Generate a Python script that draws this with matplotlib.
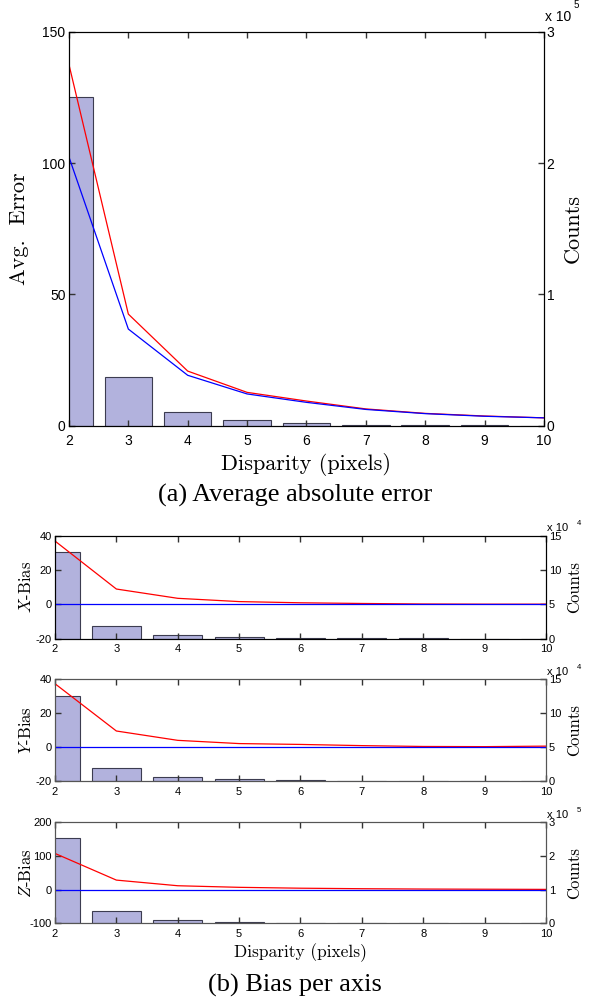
import matplotlib
matplotlib.use("Agg")
import matplotlib.pyplot as plt

plt.rcParams['mathtext.fontset'] = 'cm'
plt.rcParams['axes.unicode_minus'] = False
plt.rcParams['xtick.direction'] = 'in'
plt.rcParams['ytick.direction'] = 'in'
plt.rcParams['xtick.top'] = True
plt.rcParams['xtick.major.size'] = 4
plt.rcParams['ytick.major.size'] = 4
plt.rcParams['xtick.major.width'] = 1.0
plt.rcParams['ytick.major.width'] = 1.0
plt.rcParams['xtick.color'] = '#333333'
plt.rcParams['ytick.color'] = '#333333'
plt.rcParams['xtick.labelcolor'] = 'black'
plt.rcParams['ytick.labelcolor'] = 'black'

disparity = [2, 3, 4, 5, 6, 7, 8, 9, 10]

# (a) average absolute error
err_red = [137.5, 42.5, 20.8, 12.7, 9.4, 6.4, 4.7, 3.7, 3.0]
err_blue = [102.3, 36.8, 19.2, 12.1, 8.9, 6.2, 4.6, 3.6, 3.0]
counts_a = [250000, 37000, 10700, 4400, 2000, 700, 400, 250, 150]

# (b) bias per axis
x_red = [36.8, 8.9, 3.5, 1.6, 0.9, 0.5, 0.2, 0.1, 0.1]
x_blue = [0, 0, 0, 0, 0, 0, 0, 0, 0]
x_counts = [126000, 18500, 5800, 2500, 1200, 600, 350, 200, 120]

y_red = [37.2, 9.4, 3.9, 2.0, 1.5, 0.8, 0.3, 0.2, 0.5]
y_blue = [0, 0, 0, 0, 0, 0, 0, 0, 0]
y_counts = [125000, 18700, 5400, 2500, 1200, 600, 350, 200, 120]

z_red = [107, 28, 11.3, 6.6, 4.0, 2.5, 1.5, 1.0, 0.5]
z_blue = [0, 0, 0, 0, 0, 0, 0, 0, 0]
z_counts = [252000, 37300, 10700, 4700, 2200, 1000, 600, 300, 200]

BAR_FACE = "#b2b2dd"
BAR_EDGE = "#3c3c50"
AX_COL = "#555555"
TICK_FONT = "Liberation Sans"
LABEL_FONT = "cmr10"


def panel(fig, rect, red, blue, counts, ylim, yticks, clim, cticks, ctick_labels,
          exp, ylabel, tfs, lfs, lab_x, cnt_x, xpad, spine_mode, text_on_ax):
    ax = fig.add_axes(rect)
    ax2 = ax.twinx()
    ax2.bar(disparity, counts, width=0.8, color=BAR_FACE, edgecolor=BAR_EDGE, linewidth=0.8)
    ax.plot(disparity, red, color="red", lw=0.9)
    ax.plot(disparity, blue, color="blue", lw=0.9)
    ax.set_zorder(ax2.get_zorder() + 1)
    ax.patch.set_visible(False)

    ax.set_xlim(2, 10)
    ax.set_ylim(*ylim)
    ax2.set_ylim(*clim)
    ax.set_xticks(disparity)
    ax.set_xticklabels([str(d) for d in disparity], fontfamily=TICK_FONT, fontsize=tfs)
    ax.set_yticks(yticks)
    ax.set_yticklabels([str(t) for t in yticks], fontfamily=TICK_FONT, fontsize=tfs)
    ax2.set_yticks(cticks)
    ax2.set_yticklabels(ctick_labels, fontfamily=TICK_FONT, fontsize=tfs)

    ax.tick_params(axis="x", pad=xpad)
    ax.tick_params(axis="y", pad=2.5)
    ax2.tick_params(axis="y", pad=2)
    for a in (ax, ax2):
        for s in a.spines.values():
            if spine_mode in ("both", "color"):
                s.set_color(AX_COL)
            if spine_mode in ("both", "width"):
                s.set_linewidth(0.8)

    ax.set_ylabel(ylabel, fontfamily=LABEL_FONT, fontsize=lfs)
    ax.yaxis.set_label_coords(lab_x, 0.5)
    ax2.set_ylabel("Counts", fontfamily=LABEL_FONT, fontsize=lfs)
    ax2.yaxis.set_label_coords(cnt_x, 0.5)

    tax = ax if text_on_ax else ax2
    tax.text(1.002, 1.02, "x 10", transform=tax.transAxes, fontfamily=TICK_FONT,
             fontsize=tfs, ha="left", va="bottom")
    tax.text(1.062, 1.055 if tfs > 9 else 1.08, exp, transform=tax.transAxes,
             fontfamily=TICK_FONT, fontsize=tfs * 0.7, ha="left", va="bottom")
    return ax


fig = plt.figure(figsize=(5.9, 10.01), dpi=100)

ax_a = panel(fig, [0.1169, 0.5747, 0.805, 0.3936], err_red, err_blue, counts_a,
             (0, 150), [0, 50, 100, 150], (0, 300000), [0, 100000, 200000, 300000],
             ["0", "1", "2", "3"], "5", "Avg.  Error", 10, 16, -0.084, 1.04, 6,
             "none", False)
ax_a.set_xlabel("Disparity (pixels)", fontfamily=LABEL_FONT, fontsize=16)
ax_a.xaxis.set_label_coords(0.5, -0.069)
ax_a.xaxis.label.set_va("top")

panel(fig, [0.0932, 0.3619, 0.8322, 0.1031], x_red, x_blue, x_counts,
      (-20, 40), [-20, 0, 20, 40], (0, 150000), [0, 50000, 100000, 150000],
      ["0", "5", "10", "15"], "4", r"$X$-Bias", 8, 12, -0.043, 1.043, 4,
      "width", False)
panel(fig, [0.0932, 0.2198, 0.8322, 0.1019], y_red, y_blue, y_counts,
      (-20, 40), [-20, 0, 20, 40], (0, 150000), [0, 50000, 100000, 150000],
      ["0", "5", "10", "15"], "4", r"$Y$-Bias", 8, 12, -0.043, 1.043, 4,
      "color", True)
ax_z = panel(fig, [0.0932, 0.0776, 0.8322, 0.1012], z_red, z_blue, z_counts,
             (-100, 200), [-100, 0, 100, 200], (0, 300000), [0, 100000, 200000, 300000],
             ["0", "1", "2", "3"], "5", r"$Z$-Bias", 8, 12, -0.043, 1.043, 4,
             "both", False)
ax_z.set_xlabel("Disparity (pixels)", fontfamily=LABEL_FONT, fontsize=12.5)
ax_z.xaxis.set_label_coords(0.5, -0.2)
ax_z.xaxis.label.set_va("top")

fig.text(0.5, 0.5055, "(a) Average absolute error", fontfamily="Liberation Serif",
         fontsize=19, ha="center", va="center")
fig.text(0.5, 0.016, "(b) Bias per axis", fontfamily="Liberation Serif",
         fontsize=19, ha="center", va="center")

fig.savefig("out.png", dpi=100)
